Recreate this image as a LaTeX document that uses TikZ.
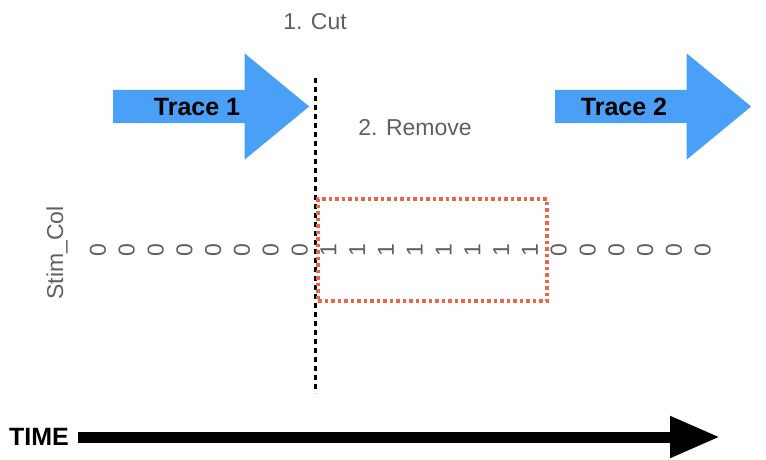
\documentclass[tikz,border=0pt]{standalone}
\usepackage{fontspec}
\setmainfont{Liberation Sans}
\usetikzlibrary{shapes,positioning,arrows.meta}
\definecolor{traceblue}{RGB}{74,159,246}
\definecolor{removered}{RGB}{236,100,72}
\definecolor{labelgray}{RGB}{96,96,96}

\begin{document}
\begin{tikzpicture}[
    x=1pt, y=-1pt,
    tracearrow/.style={
        single arrow, fill=traceblue, draw=none, inner sep=0pt,
        text height=0pt, text depth=0pt, inner ysep=16.5pt,
        single arrow head extend=36.5pt, single arrow tip angle=79,
        minimum height=196pt
      },
    tracelbl/.style={
        font=\fontsize{25pt}{30pt}\selectfont\bfseries, text=black
      },
    steplbl/.style={
        font=\fontsize{23pt}{28pt}\selectfont, text=labelgray
      },
    digit/.style={
        font=\fontsize{23pt}{28pt}\selectfont, text=labelgray,
        rotate=90, inner sep=0pt
      },
    removebox/.style={
        draw=removered, line width=4pt, dash pattern=on 3.5pt off 3pt,
        minimum width=229pt, minimum height=102pt, inner sep=0pt
      },
    cutline/.style={
        draw=black, line width=3pt, dash pattern=on 5pt off 4pt
      },
    timeline/.style={
        draw=black, line width=11pt,
        -{Triangle[length=50pt,width=39pt]}
      },
  ]
  \useasboundingbox (0,0) rectangle (766,460);

  \node[tracearrow](trace1arr) at (201,106.5) {};
  \node[tracelbl](trace1) at (197,107) {Trace 1};
  \node[tracearrow](trace2arr) at (643,106.5) {};
  \node[tracelbl](trace2) at (624,107) {Trace 2};

  \coordinate (cuttop) at (315,78);
  \coordinate (cutbot) at (315,393);
  \node[steplbl](cut) at (315,22) {1. Cut};
  \node[steplbl](remove) at (415,128) {2. Remove};
  \path[cutline] (cuttop) -- (cutbot);

  \node[removebox](removed) at (432.5,250) {};

  \node[digit](stimcol) at (57,253) {Stim\_Col};
  \foreach \i in {0,...,21} {
    \pgfmathtruncatemacro{\val}{(\i>7)*(\i<16)}
    \node[digit](d\i) at ({98+28.8*\i},250) {\val};
  }

  \node[font=\fontsize{25pt}{30pt}\selectfont\bfseries, inner xsep=9pt]
    (time) at (39,437) {TIME};
  \coordinate (timeend) at (720,437);
  \path[timeline] (time.east) -- (timeend);
\end{tikzpicture}
\end{document}
